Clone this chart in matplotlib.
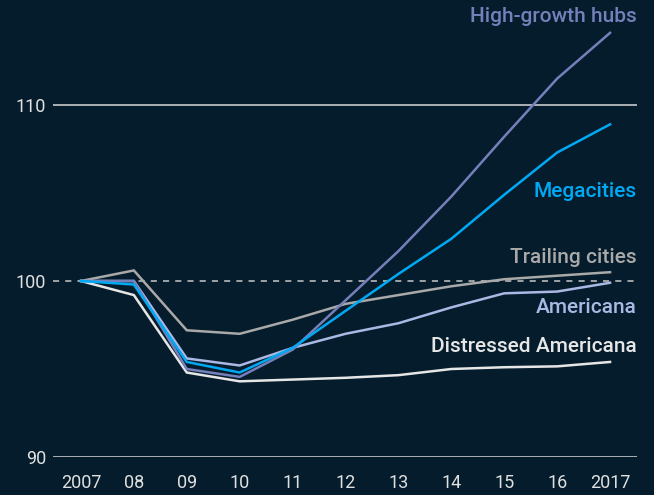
import numpy as np
import matplotlib
matplotlib.use("Agg")
import matplotlib.pyplot as plt
import matplotlib.transforms as mtransforms

# Data (index, 2007 = 100)
years = [2007, 2008, 2009, 2010, 2011, 2012, 2013, 2014, 2015, 2016, 2017]
year_labels = ["2007", "08", "09", "10", "11", "12", "13", "14", "15", "16", "2017"]

distressed = [100, 99.2, 94.8, 94.3, 94.4, 94.5, 94.65, 95.0, 95.1, 95.15, 95.4]
trailing = [100, 100.6, 97.2, 97.0, 97.8, 98.7, 99.2, 99.7, 100.1, 100.3, 100.5]
americana = [100, 100.0, 95.6, 95.2, 96.2, 97.0, 97.6, 98.5, 99.3, 99.4, 99.9]
high_growth = [100, 100.0, 95.0, 94.55, 96.1, 98.9, 101.7, 104.8, 108.2, 111.5, 114.1]
megacities = [100, 99.8, 95.4, 94.8, 96.2, 98.3, 100.4, 102.4, 104.9, 107.3, 108.9]

series_names = ["Distressed Americana", "Trailing cities", "Americana",
                "High-growth hubs", "Megacities"]
label_y = [96.25, 101.36, 98.52, 115.0, 105.06]

BG = "#051c2c"
colors = ["#e6e6e6", "#a9a9a9", "#aab8e4", "#7580bb", "#00a9f4"]

plt.rcParams["font.family"] = ["Roboto", "DejaVu Sans"]

fig = plt.figure(figsize=(6.54, 4.95), dpi=100, facecolor=BG)
ax = fig.add_axes([53 / 654, 1 - 457 / 495, (637 - 53) / 654, (457 - 10) / 495])
ax.set_facecolor(BG)

x0 = 2007 - 28 / 53
x1 = 2017 + 27 / 53
ax.set_xlim(x0, x1)
ax.set_ylim(90, 90 + 447 / 17.6)

# grid lines
ax.axhline(90, color="#d9d9d9", lw=1.1, zorder=1)
ax.axhline(110, color="#d9d9d9", lw=1.1, zorder=1)
ax.axhline(100, color="#c8c8c8", lw=1.1, ls=(0, (4, 4)), zorder=1)

data = [distressed, trailing, americana, high_growth, megacities]
for vals, c in zip(data, colors):
    ax.plot(years, vals, color=c, lw=1.8, solid_joinstyle="miter", zorder=3)

trans = mtransforms.blended_transform_factory(ax.transAxes, ax.transData)
for name, yv, c in zip(series_names, label_y, colors):
    ax.text(1.0, yv, name, transform=trans, ha="right", va="center",
            color=c, fontsize=15, fontweight="medium")

for s in ax.spines.values():
    s.set_visible(False)

ax.set_yticks([90, 100, 110])
ax.set_yticklabels(["90", "100", "110"])
ax.set_xticks(years)
ax.set_xticklabels(year_labels)
ax.tick_params(axis="both", length=0, colors="#e0e0e0", labelsize=13)
ax.tick_params(axis="y", pad=5)
ax.tick_params(axis="x", pad=12)

fig.savefig("out.png", dpi=100, facecolor=BG)
